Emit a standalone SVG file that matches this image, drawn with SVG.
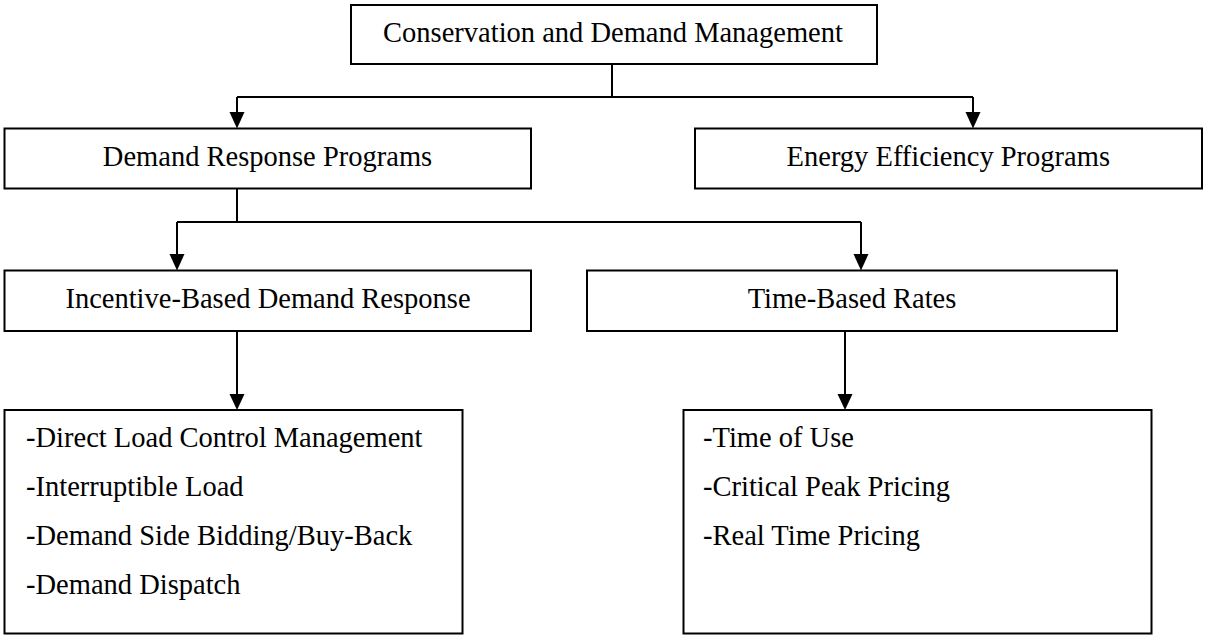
<svg xmlns="http://www.w3.org/2000/svg" width="1223" height="635" viewBox="0 0 1223 635">
<style>
.box{fill:#fff;stroke:#000;stroke-width:2}
.t{font-family:"Liberation Serif","Times New Roman",serif;font-size:28.5px;fill:#000}
.c{text-anchor:middle}
.ln{fill:none;stroke:#000;stroke-width:2}
.ah{fill:#000}
</style>
<rect width="1223" height="635" fill="#fff"/>
<g id="connectors">
<path class="ln" d="M612,64 V97"/>
<path class="ln" d="M237,97 H973"/>
<path class="ln" d="M237,97 V114"/>
<path class="ln" d="M973,97 V114"/>
<path class="ln" d="M237,188.5 V222"/>
<path class="ln" d="M177,222 H861"/>
<path class="ln" d="M177,222 V256"/>
<path class="ln" d="M861,222 V256"/>
<path class="ln" d="M237,331 V396"/>
<path class="ln" d="M845,331 V396"/>
<polygon class="ah" points="229.5,112 244.5,112 237,128.5"/>
<polygon class="ah" points="965.5,112 980.5,112 973,128.5"/>
<polygon class="ah" points="169.5,254 184.5,254 177,270.5"/>
<polygon class="ah" points="853.5,254 868.5,254 861,270.5"/>
<polygon class="ah" points="229.5,394 244.5,394 237,410"/>
<polygon class="ah" points="837.5,394 852.5,394 845,410"/>
</g>
<g id="n-cdm">
<rect class="box" x="351" y="5" width="526" height="59"/>
<text class="t c" x="613" y="42">Conservation and Demand Management</text>
</g>
<g id="n-drp">
<rect class="box" x="4.5" y="128.5" width="526.5" height="60"/>
<text class="t c" x="267.5" y="166">Demand Response Programs</text>
</g>
<g id="n-eep">
<rect class="box" x="695" y="128.5" width="507" height="60"/>
<text class="t c" x="948.3" y="166">Energy Efficiency Programs</text>
</g>
<g id="n-ibdr">
<rect class="box" x="4.5" y="270.5" width="526.5" height="60.5"/>
<text class="t c" x="268" y="307.5">Incentive-Based Demand Response</text>
</g>
<g id="n-tbr">
<rect class="box" x="587" y="270.5" width="530" height="60.5"/>
<text class="t c" x="852" y="307.5">Time-Based Rates</text>
</g>
<g id="n-ibdr-list">
<rect class="box" x="4.5" y="410" width="458" height="223.5"/>
<text class="t" x="26" y="447">-Direct Load Control Management</text>
<text class="t" x="26" y="496">-Interruptible Load</text>
<text class="t" x="26" y="545">-Demand Side Bidding/Buy-Back</text>
<text class="t" x="26" y="594">-Demand Dispatch</text>
</g>
<g id="n-tbr-list">
<rect class="box" x="683.5" y="410" width="468" height="223.5"/>
<text class="t" x="703" y="447">-Time of Use</text>
<text class="t" x="703" y="496">-Critical Peak Pricing</text>
<text class="t" x="703" y="545">-Real Time Pricing</text>
</g>
</svg>
